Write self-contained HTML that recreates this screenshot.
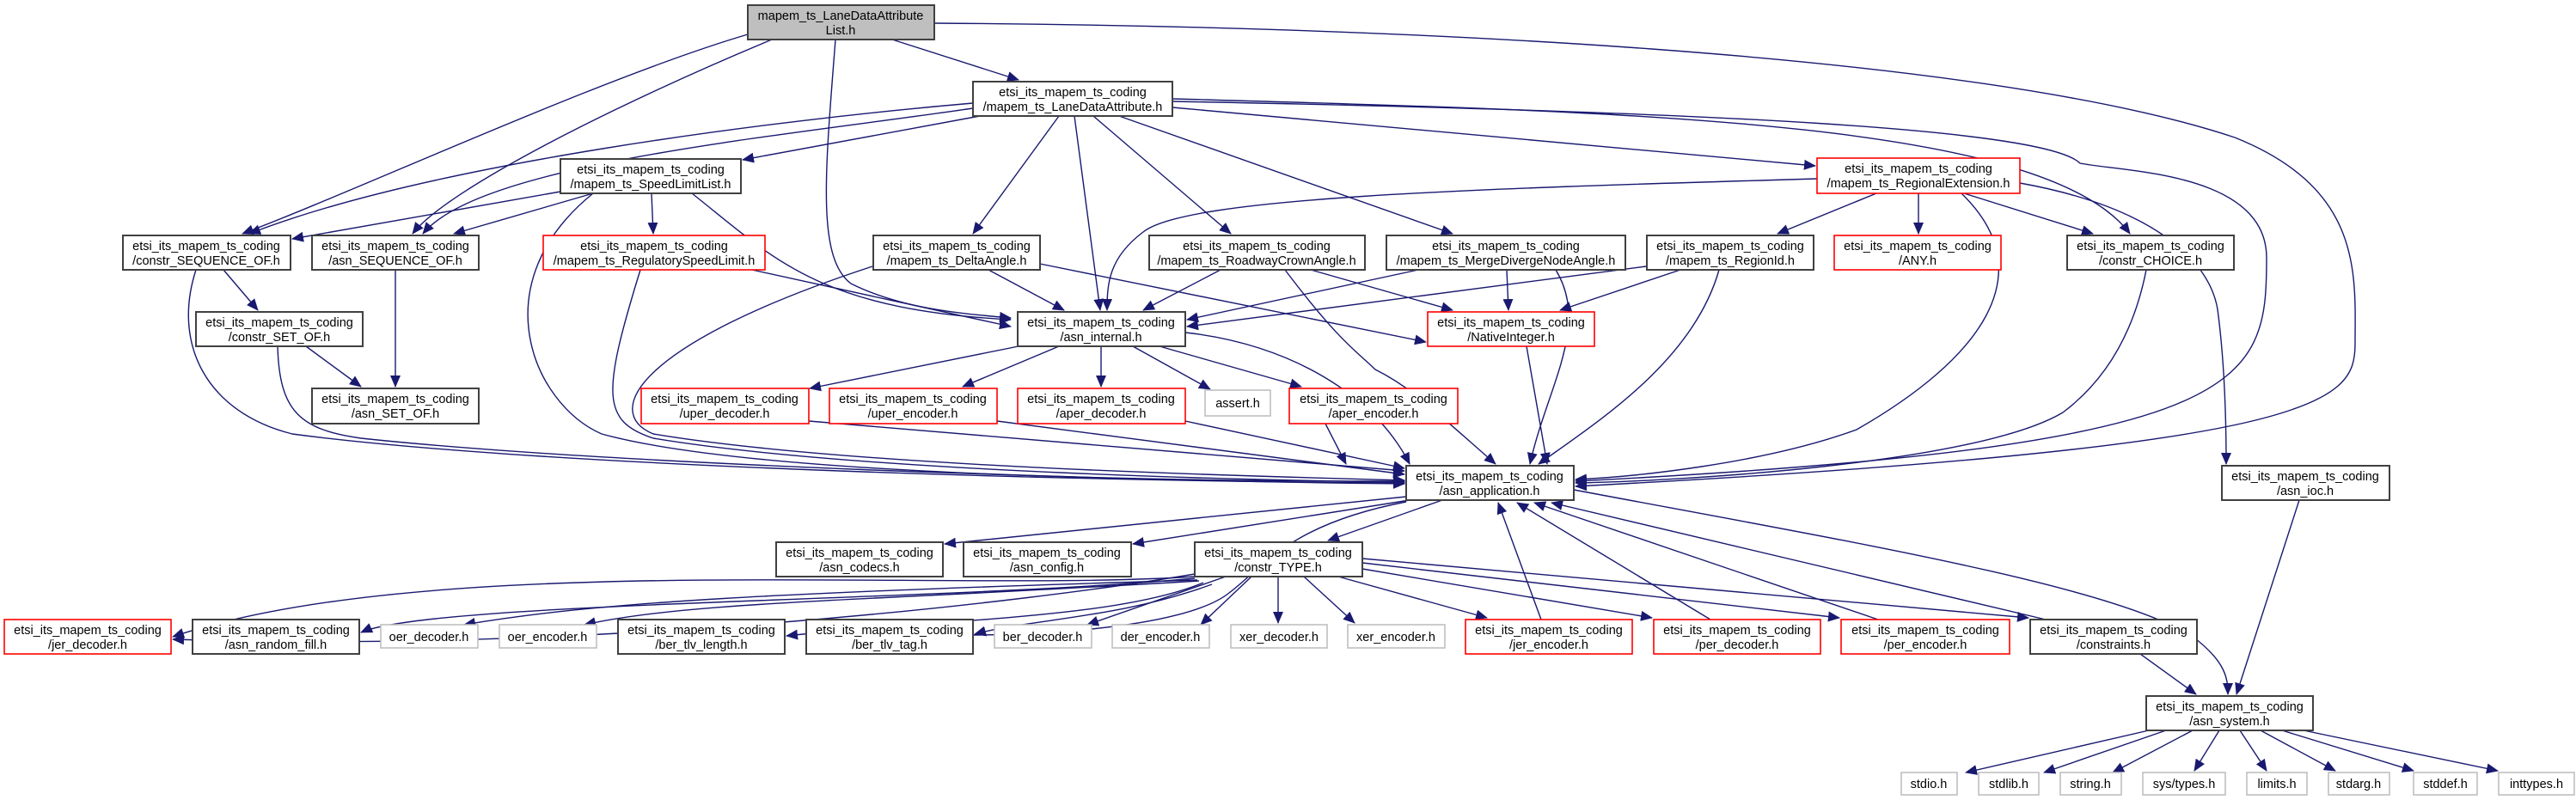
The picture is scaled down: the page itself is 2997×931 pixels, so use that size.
<!DOCTYPE html>
<html><head><meta charset="utf-8"><style>
html,body{margin:0;padding:0;background:#fff;}
svg{display:block;}
text{font-family:"Liberation Sans","DejaVu Sans",sans-serif;font-size:14.5px;fill:#000;text-anchor:middle;}
.n{fill:#fff;stroke:#404040;stroke-width:2;}
.r{fill:#fff;stroke:#ff0000;stroke-width:1.6;}
.g{fill:#fff;stroke:#bfbfbf;stroke-width:1.6;}
path{fill:none;stroke:#191970;stroke-width:1.4;}
</style></head><body>
<svg width="2997" height="931" viewBox="0 0 2997 931" xmlns="http://www.w3.org/2000/svg">
<defs><marker id="a" markerUnits="userSpaceOnUse" markerWidth="14" markerHeight="12" refX="13" refY="6" orient="auto"><polygon points="0,0 14,6 0,12" fill="#191970"/></marker></defs>
<g marker-end="url(#a)">
<path d="M1038,46 L1185,93"/>
<path d="M870,40 C700,90 420,220 282,272"/>
<path d="M898,46 C720,120 520,220 480,272"/>
<path d="M972,46 C960,200 950,300 990,330 C1050,360 1120,365 1176,370"/>
<path d="M1087,27 C1600,30 2300,60 2600,160 C2750,220 2740,320 2740,400 C2740,470 2700,520 1833,566"/>
<path d="M1132,120 C900,140 500,190 290,272"/>
<path d="M1132,126 C900,160 560,190 492,272"/>
<path d="M1140,135 L864,186"/>
<path d="M1232,135 L1132,272"/>
<path d="M1250,135 L1280,361"/>
<path d="M1272,135 L1432,272"/>
<path d="M1302,135 L1690,272"/>
<path d="M1364,125 L2112,193"/>
<path d="M1364,115 C1900,130 2380,140 2478,272"/>
<path d="M1364,118 C2000,130 2380,150 2420,190 C2470,200 2637,200 2637,300 C2637,450 2620,520 1833,560"/>
<path d="M652,223 L340,278"/>
<path d="M690,225 L528,272"/>
<path d="M758,225 L760,272"/>
<path d="M805,225 C900,300 950,360 1176,372"/>
<path d="M690,225 C560,330 620,470 700,505 C900,560 1500,560 1634,560"/>
<path d="M260,314 L300,361"/>
<path d="M228,314 C200,400 240,480 340,505 C600,540 1200,560 1634,562"/>
<path d="M356,403 L420,450"/>
<path d="M323,403 C325,480 350,500 420,510 C700,540 1300,560 1634,563"/>
<path d="M460,314 L460,450"/>
<path d="M875,314 L1176,380"/>
<path d="M745,314 C700,460 700,490 760,510 C1000,550 1500,560 1634,561"/>
<path d="M1150,314 L1238,361"/>
<path d="M1210,307 L1659,398"/>
<path d="M1015,310 C740,400 700,480 760,505 C1000,545 1500,555 1634,559"/>
<path d="M1420,314 L1330,361"/>
<path d="M1525,314 L1690,361"/>
<path d="M1495,314 C1560,400 1580,410 1600,430 C1640,450 1660,470 1740,540"/>
<path d="M1650,314 L1381,372"/>
<path d="M1753,314 L1755,361"/>
<path d="M1810,314 C1850,380 1800,450 1780,540"/>
<path d="M1915,310 L1381,380"/>
<path d="M1955,314 L1815,361"/>
<path d="M2000,314 C1970,420 1860,490 1790,540"/>
<path d="M2183,225 L2068,272"/>
<path d="M2232,225 L2232,272"/>
<path d="M2285,225 L2435,272"/>
<path d="M2114,208 C1700,220 1380,230 1330,270 C1290,300 1288,330 1288,361"/>
<path d="M2282,225 C2380,320 2300,420 2160,500 C2050,540 1900,555 1833,558"/>
<path d="M2350,213 C2500,240 2570,300 2580,360 C2588,420 2590,480 2590,540"/>
<path d="M2497,314 C2480,400 2440,450 2400,480 C2300,540 1950,560 1833,562"/>
<path d="M1776,403 L1800,540"/>
<path d="M1185,403 L942,452"/>
<path d="M1232,403 L1120,450"/>
<path d="M1281,403 L1281,450"/>
<path d="M1318,403 L1408,453"/>
<path d="M1349,403 L1514,450"/>
<path d="M1379,387 C1500,400 1600,460 1640,540"/>
<path d="M941,490 L1634,548"/>
<path d="M1160,490 L1634,552"/>
<path d="M1379,490 L1634,545"/>
<path d="M1542,493 L1566,540"/>
<path d="M1636,578 L1099,633"/>
<path d="M1640,582 L1318,633"/>
<path d="M1678,582 L1545,629"/>
<path d="M1831,570 C2150,630 2450,680 2550,740 C2590,770 2592,790 2592,808"/>
<path d="M1636,584 C1500,610 1470,660 1430,690 C1380,730 1200,748 960,735"/>
<path d="M1390,671 C1100,690 500,640 201,741"/>
<path d="M1390,673 C1100,700 500,700 420,736"/>
<path d="M1393,675 C900,690 700,700 540,727"/>
<path d="M1395,676 C1000,700 800,700 680,727"/>
<path d="M1400,678 C1300,720 1100,720 915,740"/>
<path d="M1410,680 C1300,720 1200,720 1134,738"/>
<path d="M1426,671 L1265,727"/>
<path d="M1456,671 L1397,727"/>
<path d="M1487,671 L1487,725"/>
<path d="M1517,671 L1576,725"/>
<path d="M1557,671 L1730,719"/>
<path d="M1585,662 L1922,719"/>
<path d="M1585,655 L2140,719"/>
<path d="M1585,650 L2360,719"/>
<path d="M1390,668 C1200,700 700,760 201,744"/>
<path d="M1793,721 L1743,585"/>
<path d="M1990,721 L1765,585"/>
<path d="M2185,721 L1785,585"/>
<path d="M2380,721 L1805,585"/>
<path d="M2490,761 L2555,808"/>
<path d="M2675,582 L2602,808"/>
<path d="M2500,850 L2287,899"/>
<path d="M2520,850 L2378,899"/>
<path d="M2551,850 L2458,899"/>
<path d="M2582,850 L2553,897"/>
<path d="M2606,850 L2637,897"/>
<path d="M2630,850 L2717,897"/>
<path d="M2655,850 L2808,897"/>
<path d="M2680,850 L2906,897"/>
</g>
<rect x="870" y="6" width="217" height="40" fill="#bfbfbf" stroke="#404040" stroke-width="2"/><text x="978" y="23">mapem_ts_LaneDataAttribute</text><text x="978" y="40">List.h</text>
<rect class="n" x="1132" y="95" width="232" height="40"/><text x="1248" y="112">etsi_its_mapem_ts_coding</text><text x="1248" y="129">/mapem_ts_LaneDataAttribute.h</text>
<rect class="n" x="652" y="185" width="210" height="40"/><text x="757" y="202">etsi_its_mapem_ts_coding</text><text x="757" y="219">/mapem_ts_SpeedLimitList.h</text>
<rect class="r" x="2114" y="184" width="236" height="41"/><text x="2232" y="201">etsi_its_mapem_ts_coding</text><text x="2232" y="218">/mapem_ts_RegionalExtension.h</text>
<rect class="n" x="143" y="274" width="195" height="40"/><text x="240" y="291">etsi_its_mapem_ts_coding</text><text x="240" y="308">/constr_SEQUENCE_OF.h</text>
<rect class="n" x="363" y="274" width="194" height="40"/><text x="460" y="291">etsi_its_mapem_ts_coding</text><text x="460" y="308">/asn_SEQUENCE_OF.h</text>
<rect class="r" x="632" y="274" width="258" height="40"/><text x="761" y="291">etsi_its_mapem_ts_coding</text><text x="761" y="308">/mapem_ts_RegulatorySpeedLimit.h</text>
<rect class="n" x="1016" y="274" width="194" height="40"/><text x="1113" y="291">etsi_its_mapem_ts_coding</text><text x="1113" y="308">/mapem_ts_DeltaAngle.h</text>
<rect class="n" x="1337" y="274" width="251" height="40"/><text x="1462" y="291">etsi_its_mapem_ts_coding</text><text x="1462" y="308">/mapem_ts_RoadwayCrownAngle.h</text>
<rect class="n" x="1613" y="274" width="278" height="40"/><text x="1752" y="291">etsi_its_mapem_ts_coding</text><text x="1752" y="308">/mapem_ts_MergeDivergeNodeAngle.h</text>
<rect class="n" x="1916" y="274" width="194" height="40"/><text x="2013" y="291">etsi_its_mapem_ts_coding</text><text x="2013" y="308">/mapem_ts_RegionId.h</text>
<rect class="r" x="2134" y="274" width="194" height="40"/><text x="2231" y="291">etsi_its_mapem_ts_coding</text><text x="2231" y="308">/ANY.h</text>
<rect class="n" x="2405" y="274" width="194" height="40"/><text x="2502" y="291">etsi_its_mapem_ts_coding</text><text x="2502" y="308">/constr_CHOICE.h</text>
<rect class="n" x="228" y="363" width="194" height="40"/><text x="325" y="380">etsi_its_mapem_ts_coding</text><text x="325" y="397">/constr_SET_OF.h</text>
<rect class="n" x="1184" y="363" width="195" height="40"/><text x="1281" y="380">etsi_its_mapem_ts_coding</text><text x="1281" y="397">/asn_internal.h</text>
<rect class="r" x="1661" y="363" width="194" height="40"/><text x="1758" y="380">etsi_its_mapem_ts_coding</text><text x="1758" y="397">/NativeInteger.h</text>
<rect class="n" x="363" y="452" width="194" height="41"/><text x="460" y="469">etsi_its_mapem_ts_coding</text><text x="460" y="486">/asn_SET_OF.h</text>
<rect class="r" x="746" y="452" width="195" height="41"/><text x="843" y="469">etsi_its_mapem_ts_coding</text><text x="843" y="486">/uper_decoder.h</text>
<rect class="r" x="965" y="452" width="195" height="41"/><text x="1062" y="469">etsi_its_mapem_ts_coding</text><text x="1062" y="486">/uper_encoder.h</text>
<rect class="r" x="1184" y="452" width="195" height="41"/><text x="1281" y="469">etsi_its_mapem_ts_coding</text><text x="1281" y="486">/aper_decoder.h</text>
<rect class="g" x="1402" y="454" width="76" height="30"/><text x="1440" y="474">assert.h</text>
<rect class="r" x="1500" y="452" width="196" height="41"/><text x="1598" y="469">etsi_its_mapem_ts_coding</text><text x="1598" y="486">/aper_encoder.h</text>
<rect class="n" x="1636" y="542" width="195" height="40"/><text x="1733" y="559">etsi_its_mapem_ts_coding</text><text x="1733" y="576">/asn_application.h</text>
<rect class="n" x="2585" y="542" width="195" height="40"/><text x="2682" y="559">etsi_its_mapem_ts_coding</text><text x="2682" y="576">/asn_ioc.h</text>
<rect class="n" x="903" y="631" width="194" height="40"/><text x="1000" y="648">etsi_its_mapem_ts_coding</text><text x="1000" y="665">/asn_codecs.h</text>
<rect class="n" x="1121" y="631" width="195" height="40"/><text x="1218" y="648">etsi_its_mapem_ts_coding</text><text x="1218" y="665">/asn_config.h</text>
<rect class="n" x="1390" y="631" width="195" height="40"/><text x="1487" y="648">etsi_its_mapem_ts_coding</text><text x="1487" y="665">/constr_TYPE.h</text>
<rect class="r" x="5" y="721" width="194" height="40"/><text x="102" y="738">etsi_its_mapem_ts_coding</text><text x="102" y="755">/jer_decoder.h</text>
<rect class="n" x="224" y="721" width="194" height="40"/><text x="321" y="738">etsi_its_mapem_ts_coding</text><text x="321" y="755">/asn_random_fill.h</text>
<rect class="g" x="443" y="727" width="113" height="27"/><text x="499" y="746">oer_decoder.h</text>
<rect class="g" x="581" y="727" width="113" height="27"/><text x="637" y="746">oer_encoder.h</text>
<rect class="n" x="719" y="721" width="194" height="40"/><text x="816" y="738">etsi_its_mapem_ts_coding</text><text x="816" y="755">/ber_tlv_length.h</text>
<rect class="n" x="938" y="721" width="194" height="40"/><text x="1035" y="738">etsi_its_mapem_ts_coding</text><text x="1035" y="755">/ber_tlv_tag.h</text>
<rect class="g" x="1157" y="727" width="113" height="27"/><text x="1213" y="746">ber_decoder.h</text>
<rect class="g" x="1294" y="727" width="113" height="27"/><text x="1350" y="746">der_encoder.h</text>
<rect class="g" x="1432" y="727" width="112" height="27"/><text x="1488" y="746">xer_decoder.h</text>
<rect class="g" x="1568" y="727" width="113" height="27"/><text x="1624" y="746">xer_encoder.h</text>
<rect class="r" x="1705" y="721" width="194" height="40"/><text x="1802" y="738">etsi_its_mapem_ts_coding</text><text x="1802" y="755">/jer_encoder.h</text>
<rect class="r" x="1924" y="721" width="194" height="40"/><text x="2021" y="738">etsi_its_mapem_ts_coding</text><text x="2021" y="755">/per_decoder.h</text>
<rect class="r" x="2142" y="721" width="196" height="40"/><text x="2240" y="738">etsi_its_mapem_ts_coding</text><text x="2240" y="755">/per_encoder.h</text>
<rect class="n" x="2362" y="721" width="194" height="40"/><text x="2459" y="738">etsi_its_mapem_ts_coding</text><text x="2459" y="755">/constraints.h</text>
<rect class="n" x="2497" y="810" width="194" height="40"/><text x="2594" y="827">etsi_its_mapem_ts_coding</text><text x="2594" y="844">/asn_system.h</text>
<rect class="g" x="2212" y="899" width="65" height="26"/><text x="2244" y="917">stdio.h</text>
<rect class="g" x="2302" y="899" width="70" height="26"/><text x="2337" y="917">stdlib.h</text>
<rect class="g" x="2397" y="899" width="71" height="26"/><text x="2432" y="917">string.h</text>
<rect class="g" x="2493" y="899" width="96" height="26"/><text x="2541" y="917">sys/types.h</text>
<rect class="g" x="2614" y="899" width="70" height="26"/><text x="2649" y="917">limits.h</text>
<rect class="g" x="2709" y="899" width="71" height="26"/><text x="2744" y="917">stdarg.h</text>
<rect class="g" x="2808" y="899" width="74" height="26"/><text x="2845" y="917">stddef.h</text>
<rect class="g" x="2907" y="899" width="88" height="26"/><text x="2951" y="917">inttypes.h</text>
</svg>
</body></html>
